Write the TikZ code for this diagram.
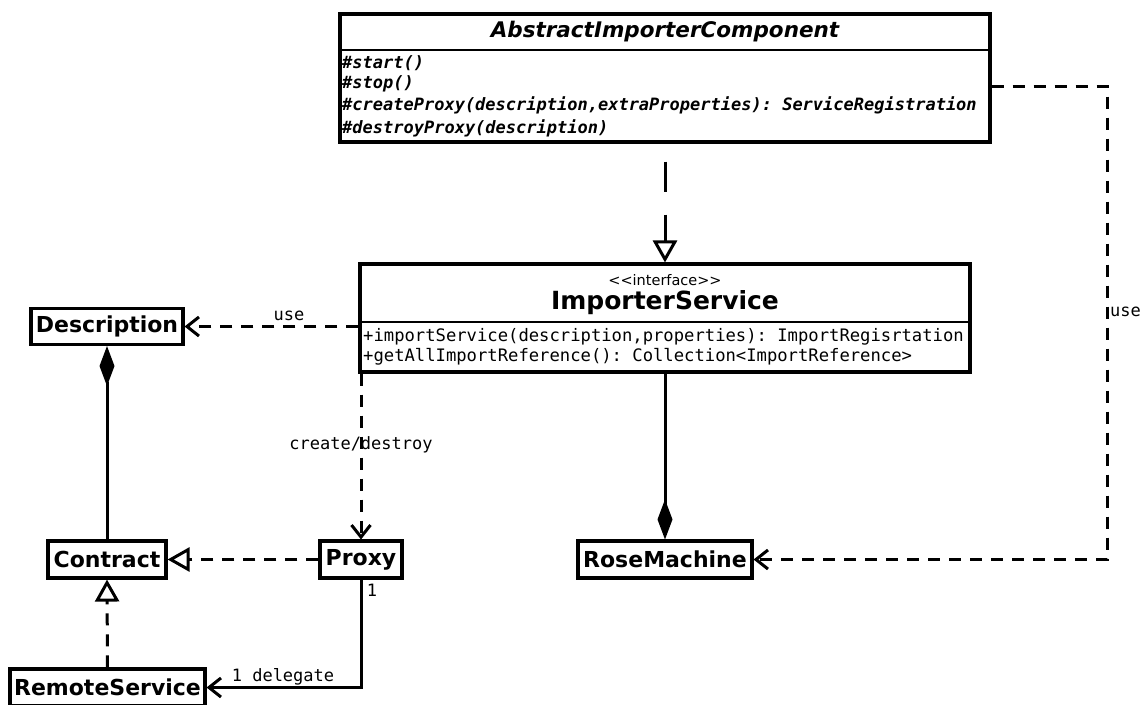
\documentclass[tikz,border=0pt]{standalone}
\usepackage{fontspec}
\setmainfont{DejaVu Sans}
\setmonofont{DejaVu Sans Mono}
\usetikzlibrary{arrows.meta}
\tikzset{
  cls/.style={draw, line width=3.1pt, inner sep=0pt, font=\fontsize{22}{26}\selectfont\bfseries},
  box/.style={draw, line width=3.1pt, inner sep=0pt},
  mono/.style={inner sep=0pt, font=\fontsize{17}{20}\selectfont\ttfamily},
  monobi/.style={inner sep=0pt, anchor=west, font=\fontsize{17}{20}\selectfont\ttfamily\bfseries\itshape},
  monol/.style={inner sep=0pt, anchor=west, font=\fontsize{17.2}{20}\selectfont\ttfamily},
  dep/.style={line width=3pt, dash pattern=on 12pt off 9pt, -{Straight Barb[length=12pt,width=19pt]}},
  real/.style={line width=3pt, dash pattern=on 12pt off 9pt, -{Triangle[open,length=22pt,width=24pt,fill=white]}},
  comp/.style={line width=3pt, -{Diamond[length=40pt,width=15pt]}},
  assoc/.style={line width=3pt, -{Straight Barb[length=12pt,width=19pt]}},
  divider/.style={line width=2.4pt}
}
\begin{document}
\begin{tikzpicture}[x=1pt,y=-1pt]
\useasboundingbox (0,0) rectangle (1140,704);

% AbstractImporterComponent
\node[box, minimum width=650pt, minimum height=128pt] (abs) at (665,78) {};
\draw[divider] (abs.west |- 0,50) -- (abs.east |- 0,50);
\node[inner sep=0pt, font=\fontsize{21.5}{25}\selectfont\bfseries\itshape] (absname) at (665,32) {AbstractImporterComponent};
\node[monobi] (a1) at (342,63) {\#start()};
\node[monobi] (a2) at (342,84) {\#stop()};
\node[monobi] (a3) at (342,105) {\#createProxy(description,extraProperties): ServiceRegistration};
\node[monobi] (a4) at (342,128) {\#destroyProxy(description)};

% ImporterService
\node[box, minimum width=610pt, minimum height=108pt] (imp) at (665,318) {};
\draw[divider] (imp.west |- 0,322) -- (imp.east |- 0,322);
\node[inner sep=0pt, font=\fontsize{14.5}{17}\selectfont] (stereo) at (665,280) {{<}{<}interface{>}{>}};
\node[inner sep=0pt, font=\fontsize{25}{30}\selectfont\bfseries] (impname) at (665,303) {ImporterService};
\node[monol] (i1) at (363,337) {+importService(description,properties): ImportRegisrtation};
\node[monol] (i2) at (363,357) {+getAllImportReference(): Collection<ImportReference>};

% simple classes
\node[cls, minimum width=152pt, minimum height=36pt] (desc) at (107,326.5) {Description};
\node[cls, minimum width=118pt, minimum height=37pt] (contract) at (107,559.5) {Contract};
\node[cls, minimum width=82pt, minimum height=37pt] (proxy) at (361,559.5) {Proxy};
\node[cls, minimum width=195pt, minimum height=37pt] (remote) at (107.5,687.5) {RemoteService};
\node[cls, minimum width=174pt, minimum height=37pt] (rose) at (665,559.5) {RoseMachine};

% connectors
\draw[dep] (desc.east -| imp.west) -- (desc.east);
\node[mono] (usel) at (289,316) {use};

\draw[comp] (contract.north) -- (desc.south);

\draw[real] (proxy.west) -- (contract.east);
\draw[real] (remote.north) -- (contract.south);

\draw[assoc] (proxy.south) |- (remote.east);
\node[mono] (one1) at (372,590) {1};
\node[mono] (deleg) at (283,677) {1 delegate};

\draw[dep] (imp.south -| proxy.north) -- (proxy.north);
\node[mono] (cd) at (361,445) {create/destroy};

\draw[comp] (imp.south -| rose.north) -- (rose.north);

\draw[real, dash pattern=on 30pt off 23pt, dash phase=35pt] (abs.south) -- (imp.north);

\coordinate (corner) at (1107,86);
\draw[dep] (corner -| abs.east) -- (corner) |- (rose.east);
\node[mono, anchor=west] (usel2) at (1110,312) {use};
\end{tikzpicture}
\end{document}
